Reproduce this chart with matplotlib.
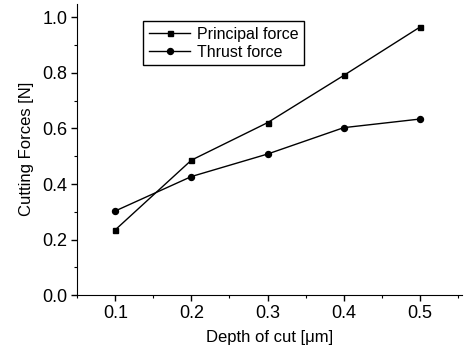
import matplotlib
matplotlib.use("Agg")
import matplotlib.pyplot as plt
from matplotlib.ticker import MultipleLocator

plt.rcParams['font.family'] = ['Liberation Sans', 'DejaVu Sans']

# Cutting forces vs depth of cut
depth = [0.1, 0.2, 0.3, 0.4, 0.5]
principal_force = [0.235, 0.486, 0.621, 0.791, 0.965]
thrust_force = [0.303, 0.427, 0.508, 0.603, 0.634]

fig = plt.figure(figsize=(4.65, 3.53), dpi=100)
ax = fig.add_axes([0.166, 0.164, 0.827, 0.826])

ax.plot(depth, principal_force, color='black', linewidth=1.0,
        marker='s', markersize=3.6, label='Principal force')
ax.plot(depth, thrust_force, color='black', linewidth=1.0,
        marker='o', markersize=4.3, label='Thrust force')

ax.set_xlim(0.05, 0.555)
ax.set_ylim(0.0, 1.05)
ax.xaxis.set_major_locator(MultipleLocator(0.1))
ax.xaxis.set_minor_locator(MultipleLocator(0.05))
ax.yaxis.set_major_locator(MultipleLocator(0.2))
ax.yaxis.set_minor_locator(MultipleLocator(0.1))
ax.xaxis.set_major_formatter(plt.FormatStrFormatter('%.1f'))
ax.yaxis.set_major_formatter(plt.FormatStrFormatter('%.1f'))

ax.spines['top'].set_visible(False)
ax.spines['right'].set_visible(False)
ax.tick_params(which='major', direction='out', length=4, width=1,
               labelsize=13, pad=3)
ax.tick_params(which='minor', direction='out', length=2, width=0.8)

ax.set_xlabel("Depth of cut [\u03bcm]", fontsize=12, labelpad=6)
ax.set_ylabel("Cutting Forces [N]", fontsize=12, labelpad=6)

ax.legend(loc='upper left', bbox_to_anchor=(0.172, 0.94), fontsize=11.5,
          frameon=True, fancybox=False, edgecolor='black', framealpha=1,
          handlelength=2.6, handletextpad=0.4, borderpad=0.35,
          labelspacing=0.2, borderaxespad=0)

plt.savefig("out.png", dpi=100, facecolor='white')
plt.close()
